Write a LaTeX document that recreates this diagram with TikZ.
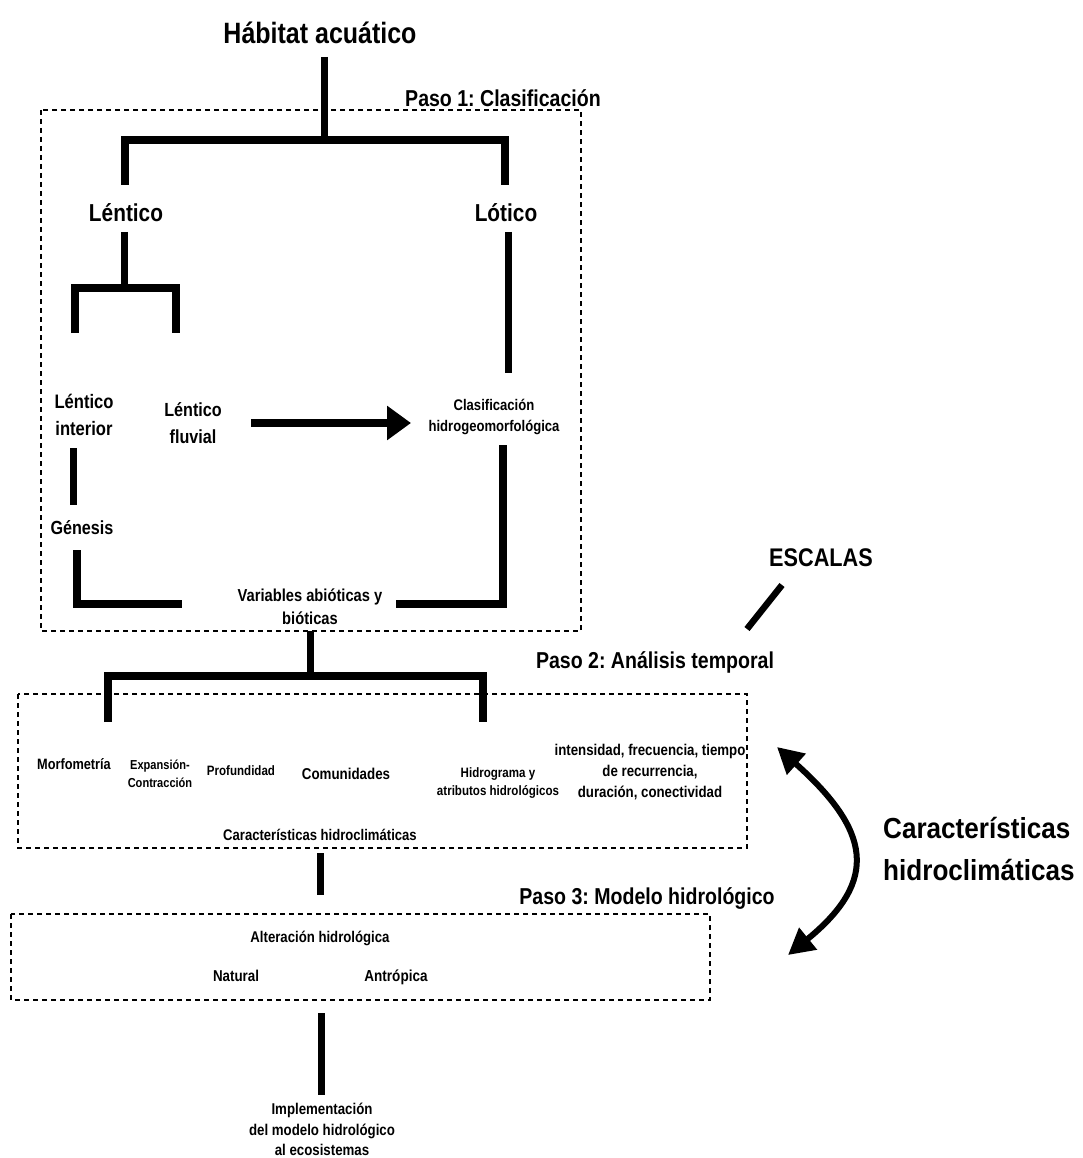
\documentclass[tikz,border=0pt]{standalone}
\usepackage{fontspec}
\setmainfont{Liberation Sans}[FakeStretch=0.85]
\newfontfamily\widefont{Liberation Sans}[FakeStretch=0.9]
\usetikzlibrary{arrows.meta}
\newcommand{\myfs}[2]{\fontsize{#1}{#2}\selectfont\bfseries}
\frenchspacing
\begin{document}
\begin{tikzpicture}[x=1pt,y=-1pt,
  tree/.style={line width=8pt, line join=miter, line cap=butt},
  vline/.style={line width=7pt, line cap=butt},
  dbox/.style={draw, line width=2.2pt, dash pattern=on 5pt off 4pt},
  lbl/.style={inner sep=0pt, align=center, text=black},
  bigtip/.style={-{Triangle[length=24pt,width=33pt]}, line width=7.5pt},
  curvetip/.style={{Triangle[length=26pt,width=27pt]}-{Triangle[length=26pt,width=27pt]}, line width=6pt}
]
\useasboundingbox (0,0) rectangle (1082,1158);
\fill[white] (0,0) rectangle (1082,1158);

% ---------- dashed boxes ----------
\draw[dbox] (41,110) rectangle (581,631);
\draw[dbox] (18,694) rectangle (747,848);
\draw[dbox] (11,914) rectangle (710,1000);

% ---------- labels ----------
\node[lbl, font=\myfs{29.4}{34}] (hab) at (320,33) {Hábitat acuático};
\node[lbl, font=\myfs{23}{27}] (paso1) at (503,98) {Paso 1: Clasificación};
\node[lbl, font=\myfs{24.5}{28}] (lent) at (126,213) {Léntico};
\node[lbl, font=\myfs{24.5}{28}] (lot) at (506,213) {Lótico};
\node[lbl, font=\myfs{19.5}{27}] (lint) at (84,414.5) {Léntico\\interior};
\node[lbl, font=\myfs{19}{27}] (lflu) at (193,423.5) {Léntico\\fluvial};
\node[lbl, font=\myfs{15.4}{21}] (clas) at (494,416.5) {Clasificación\\hidrogeomorfológica};
\node[lbl, font=\myfs{19}{23}] (gen) at (82,528) {Génesis};
\node[lbl, font=\myfs{17.3}{23}] (var) at (310,606.5) {Variables abióticas y\\bióticas};
\node[lbl, font=\myfs{23}{27}] (paso2) at (655,662) {Paso 2: Análisis temporal};
\node[lbl, font=\myfs{25.5}{30}] (esc) at (821,558) {ESCALAS};

\node[lbl, font=\myfs{15}{19}] (morf) at (74,764) {Morfometría};
\node[lbl, font=\myfs{13}{18}] (expc) at (160,774) {Expansión-\\Contracción};
\node[lbl, font=\myfs{13.6}{18}] (prof) at (241,771) {Profundidad};
\node[lbl, font=\myfs{15.7}{19}] (com) at (346,774) {Comunidades};
\node[lbl, font=\myfs{13.6}{18.5}] (hidr) at (498,783) {Hidrograma y\\atributos hidrológicos};
\node[lbl, font=\myfs{15.6}{21}] (inten) at (650,772) {intensidad, frecuencia, tiempo\\de recurrencia,\\duración, conectividad};
\node[lbl, font=\myfs{15.4}{19}] (carb) at (320,835) {Características hidroclimáticas};

\node[lbl, font=\myfs{23}{27}] (paso3) at (647,898) {Paso 3: Modelo hidrológico};
\node[lbl, font=\myfs{15.5}{19}] (alt) at (320,938) {Alteración hidrológica};
\node[lbl, anchor=base, font=\myfs{15.7}{19}] (nat) at (236,981) {Natural};
\node[lbl, anchor=base, font=\myfs{15.9}{19}] (antr) at (396,981) {Antrópica};
\node[lbl, font=\myfs{15.6}{20.5}] (impl) at (322,1129.5) {Implementación\\del modelo hidrológico\\al ecosistemas};

\node[lbl, align=left, anchor=west, font=\widefont\fontsize{29}{42}\selectfont\bfseries] (carR) at (883,849) {Características\\hidroclimáticas};

% ---------- coordinates ----------
\coordinate (habS) at (324,57);
\coordinate (j1) at (324,140);
\coordinate (lentT) at (125,185);
\coordinate (lotT) at (505,185);
\coordinate (lentB) at (124,232);
\coordinate (j2) at (124,288);
\coordinate (lintT) at (75,333);
\coordinate (lfluT) at (176,333);
\coordinate (lotB) at (508,232);
\coordinate (clasT) at (508,373);
\coordinate (lintB) at (73,448);
\coordinate (genT) at (73,505);
\coordinate (genB) at (77,550);
\coordinate (varL) at (182,604);
\coordinate (clasB) at (503,445);
\coordinate (varR) at (396,604);
\coordinate (arrS) at (251,423);
\coordinate (arrE) at (411,423);
\coordinate (varB) at (310,631);
\coordinate (j3) at (310,676);
\coordinate (morfT) at (108,722);
\coordinate (hidrT) at (483,722);
\coordinate (b2B) at (320,853);
\coordinate (b3T) at (320,895);
\coordinate (b3B) at (321,1013);
\coordinate (implT) at (321,1095);
\coordinate (escA) at (747,629);
\coordinate (escB) at (782,585);
\coordinate (cuA) at (777,747);
\coordinate (cuB) at (788,955);

% ---------- connectors ----------
\draw[vline] (habS) -- (j1);
\draw[tree] (lentT) |- (j1) -| (lotT);
\draw[vline] (lentB) -- (j2);
\draw[tree] (lintT) |- (j2) -| (lfluT);
\draw[vline] (lotB) -- (clasT);
\draw[vline] (lintB) -- (genT);
\draw[tree] (genB) |- (varL);
\draw[tree] (clasB) |- (varR);
\draw[bigtip] (arrS) -- (arrE);
\draw[vline] (varB) -- (j3);
\draw[tree] (morfT) |- (j3) -| (hidrT);
\draw[vline] (b2B) -- (b3T);
\draw[vline] (b3B) -- (implT);
\draw[line width=6.5pt] (escA) -- (escB);
\draw[curvetip] (cuA) .. controls (870,830) and (880,880) .. (cuB);
\end{tikzpicture}
\end{document}
